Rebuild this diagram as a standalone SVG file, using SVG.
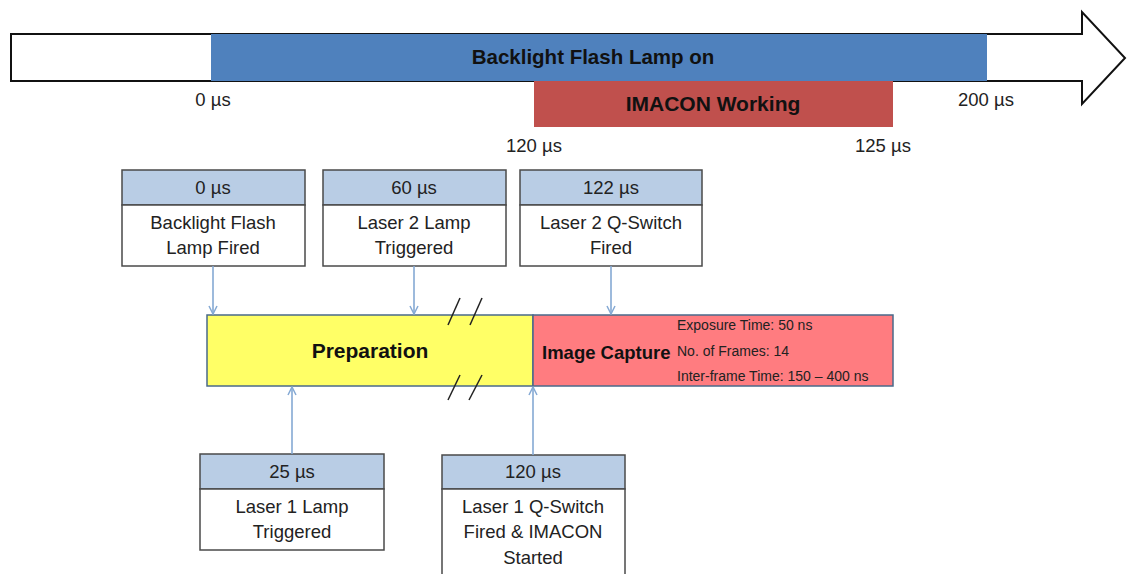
<svg xmlns="http://www.w3.org/2000/svg" width="1129" height="574" viewBox="0 0 1129 574">
<defs>
<style>
text{font-family:"Liberation Sans",Arial,sans-serif;fill:#222;}
.t{font-size:18.5px;text-anchor:middle;}
.b{font-size:20px;font-weight:bold;text-anchor:middle;fill:#111;}
.s{font-size:14px;fill:#222;}
.hdr{fill:#B9CDE5;stroke:#4a4a4a;stroke-width:1.5;}
.bod{fill:#fff;stroke:#4a4a4a;stroke-width:1.5;}
.con{stroke:#85A9D4;stroke-width:1.6;fill:none;}
.brk{stroke:#222;stroke-width:1.5;}
</style>
<marker id="ah" viewBox="0 0 10 10" refX="9" refY="5" markerWidth="10" markerHeight="10" markerUnits="userSpaceOnUse" orient="auto">
<path d="M1,1 L9,5 L1,9" fill="none" stroke="#85A9D4" stroke-width="1.5"/>
</marker>
</defs>
<rect width="1129" height="574" fill="#fff"/>
<g id="timeline">
<path d="M11,34 L1082,34 L1082,12 L1125,58 L1082,104 L1082,81 L11,81 Z" fill="#fff" stroke="#111" stroke-width="2"/>
<rect x="211" y="34" width="776" height="47" fill="#4F81BD"/>
<rect x="534" y="81" width="359" height="46" fill="#C0504D"/>
<text class="b" x="593" y="64" style="font-size:20.5px">Backlight Flash Lamp on</text>
<text class="b" x="713" y="111" style="font-size:21px">IMACON Working</text>
<text class="t" x="213" y="106">0 µs</text>
<text class="t" x="986" y="106">200 µs</text>
<text class="t" x="534" y="152">120 µs</text>
<text class="t" x="883" y="152">125 µs</text>
</g>
<g id="box-0us">
<rect class="hdr" x="122" y="170" width="183" height="35"/>
<rect class="bod" x="122" y="205" width="183" height="61"/>
<text class="t" x="213" y="194">0 µs</text>
<text class="t" x="213" y="229">Backlight Flash</text>
<text class="t" x="213" y="254">Lamp Fired</text>
</g>
<g id="box-60us">
<rect class="hdr" x="323" y="170" width="183" height="35"/>
<rect class="bod" x="323" y="205" width="183" height="61"/>
<text class="t" x="414" y="194">60 µs</text>
<text class="t" x="414" y="229">Laser 2 Lamp</text>
<text class="t" x="414" y="254">Triggered</text>
</g>
<g id="box-122us">
<rect class="hdr" x="520" y="170" width="182" height="35"/>
<rect class="bod" x="520" y="205" width="182" height="61"/>
<text class="t" x="611" y="194">122 µs</text>
<text class="t" x="611" y="229">Laser 2 Q-Switch</text>
<text class="t" x="611" y="254">Fired</text>
</g>
<g id="preparation">
<rect x="207" y="315" width="326" height="71" fill="#FFFF66" stroke="#4a6a8a" stroke-width="1.5"/>
<text class="b" x="370" y="358" style="font-size:21px">Preparation</text>
</g>
<g id="image-capture">
<rect x="533" y="315" width="360" height="71" fill="#FF7C80" stroke="#4a6a8a" stroke-width="1.5"/>
<text class="b" x="542" y="359" style="text-anchor:start;font-size:18.5px">Image Capture</text>
<text class="s" x="677" y="330">Exposure Time: 50 ns</text>
<text class="s" x="677" y="356">No. of Frames: 14</text>
<text class="s" x="677" y="381">Inter-frame Time: 150 – 400 ns</text>
</g>
<g id="break-marks">
<line class="brk" x1="448" y1="325" x2="460" y2="298"/>
<line class="brk" x1="470" y1="325" x2="482" y2="298"/>
<line class="brk" x1="448" y1="400" x2="460" y2="375"/>
<line class="brk" x1="469" y1="400" x2="482" y2="375"/>
</g>
<g id="box-25us">
<rect class="hdr" x="200" y="454" width="184" height="35"/>
<rect class="bod" x="200" y="489" width="184" height="61"/>
<text class="t" x="292" y="478">25 µs</text>
<text class="t" x="292" y="513">Laser 1 Lamp</text>
<text class="t" x="292" y="538">Triggered</text>
</g>
<g id="box-120us">
<rect class="hdr" x="442" y="455" width="183" height="34"/>
<rect class="bod" x="442" y="489" width="183" height="90"/>
<text class="t" x="533" y="478">120 µs</text>
<text class="t" x="533" y="513">Laser 1 Q-Switch</text>
<text class="t" x="533" y="538">Fired &amp; IMACON</text>
<text class="t" x="533" y="564">Started</text>
</g>
<g id="connectors">
<line class="con" x1="213" y1="266" x2="213" y2="314" marker-end="url(#ah)"/>
<line class="con" x1="414" y1="266" x2="414" y2="314" marker-end="url(#ah)"/>
<line class="con" x1="611" y1="266" x2="611" y2="314" marker-end="url(#ah)"/>
<line class="con" x1="292" y1="454" x2="292" y2="387" marker-end="url(#ah)"/>
<line class="con" x1="533" y1="455" x2="533" y2="387" marker-end="url(#ah)"/>
</g>
</svg>
